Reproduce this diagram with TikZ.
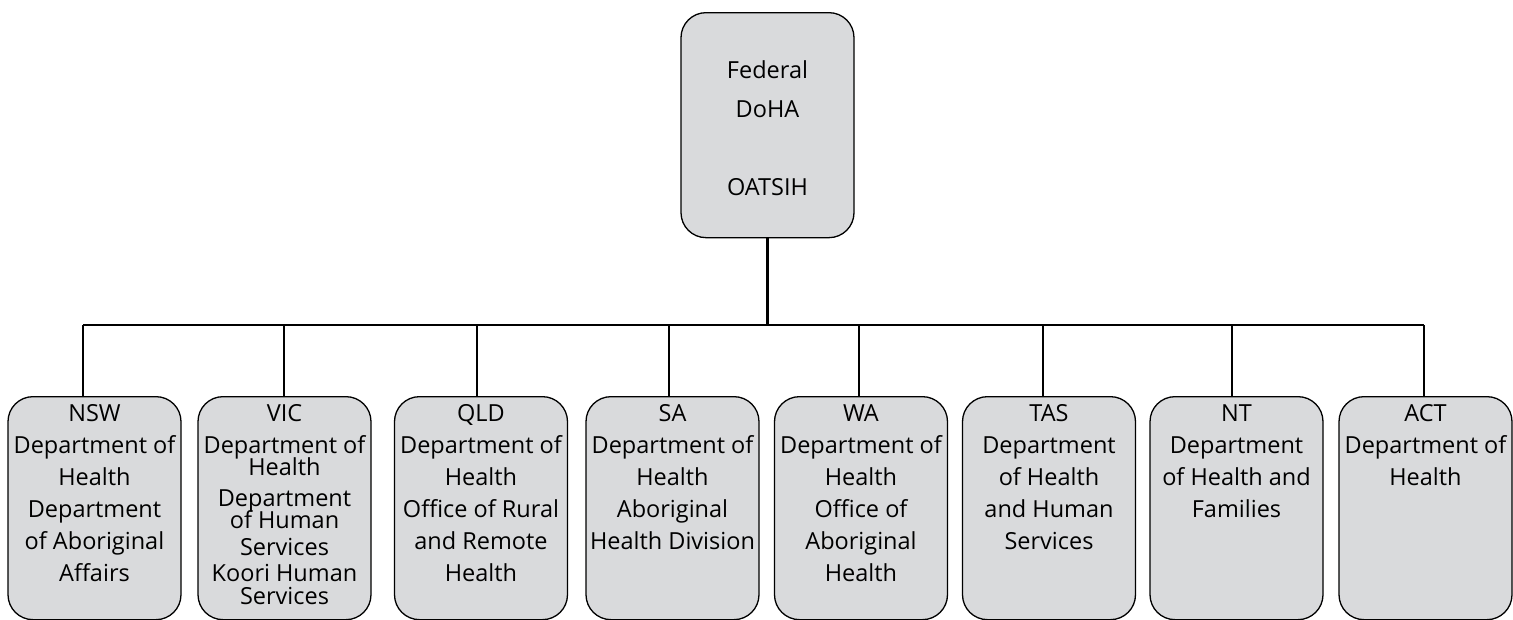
\documentclass[tikz,border=0pt]{standalone}
\usepackage{fontspec}
\setmainfont{Open Sans}
\definecolor{boxgray}{RGB}{217,218,220}
\newcommand\mytightlines{\lineskiplimit=-30pt\relax\lineskip=0pt\relax}
\tikzset{
  orgbox/.style={draw=black, line width=1.3pt, fill=boxgray, rounded corners=25pt,
    minimum width=173pt, minimum height=223pt, inner sep=0pt, anchor=north},
  boxtext/.style={anchor=north, align=center, inner sep=0pt,
    font=\fontsize{23.5}{32}\selectfont},
  link/.style={line width=2.2pt}
}
\begin{document}
\begin{tikzpicture}[x=1pt,y=-1pt]
\useasboundingbox (0,0) rectangle (1513,619);
% top box
\node[orgbox, minimum height=225pt] (fed) at (767.5,12) {};
\node[boxtext, font=\fontsize{23.5}{39}\selectfont] (fedtxt) at (767.5,60) {Federal\\DoHA\\ \\OATSIH};
% bottom boxes
\node[orgbox] (nsw) at (94.5,396) {};
\node[orgbox] (vic) at (284.5,396) {};
\node[orgbox] (qld) at (481,396) {};
\node[orgbox] (sa)  at (672.5,396) {};
\node[orgbox] (wa)  at (861,396) {};
\node[orgbox] (tas) at (1049,396) {};
\node[orgbox] (nt)  at (1236.5,396) {};
\node[orgbox] (act) at (1425.5,396) {};
% texts
\node[boxtext] (nswt) at (94.5,404.5) {NSW\\Department of\\Health\\Department\\of Aboriginal\\Affairs};
\node[boxtext, font=\fontsize{23.5}{22}\selectfont\mytightlines] (vict) at (284.5,404.5) {VIC\\[10pt]Department of\\Health\\[9pt]Department\\of Human\\[5pt]Services\\[4pt]Koori Human\\[1pt]Services};
\node[boxtext] (qldt) at (481,404.5) {QLD\\Department of\\Health\\Office of Rural\\and Remote\\Health};
\node[boxtext] (sat) at (672.5,404.5) {SA\\Department of\\Health\\Aboriginal\\Health Division};
\node[boxtext] (wat) at (861,404.5) {WA\\Department of\\Health\\Office of\\Aboriginal\\Health};
\node[boxtext] (tast) at (1049,404.5) {TAS\\Department\\of Health\\and Human\\Services};
\node[boxtext] (ntt) at (1236.5,404.5) {NT\\Department\\of Health and\\Families};
\node[boxtext] (actt) at (1425.5,404.5) {ACT\\Department of\\Health};
% connectors
\coordinate (bNSW) at (83,325);
\coordinate (bVIC) at (284,325);
\coordinate (bQLD) at (477,325);
\coordinate (bSA)  at (669,325);
\coordinate (bWA)  at (859,325);
\coordinate (bTAS) at (1043,325);
\coordinate (bNT)  at (1232,325);
\coordinate (bACT) at (1424,325);
\draw[link] (fed.south) -- (fed.south |- bNSW);
\draw[link] (bNSW) -- (bACT);
\draw[link] (bNSW) -- (bNSW |- nsw.north);
\draw[link] (bVIC) -- (bVIC |- vic.north);
\draw[link] (bQLD) -- (bQLD |- qld.north);
\draw[link] (bSA) -- (bSA |- sa.north);
\draw[link] (bWA) -- (bWA |- wa.north);
\draw[link] (bTAS) -- (bTAS |- tas.north);
\draw[link] (bNT) -- (bNT |- nt.north);
\draw[link] (bACT) -- (bACT |- act.north);
\end{tikzpicture}
\end{document}
